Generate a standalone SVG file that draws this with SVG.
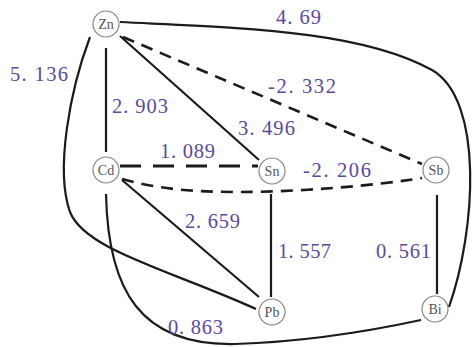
<svg xmlns="http://www.w3.org/2000/svg" width="473" height="347" viewBox="0 0 473 347">
<style>
.e{fill:none;stroke:#1c1a1a;stroke-width:2.2;stroke-linecap:butt}
.d1{stroke-dasharray:21 12;stroke-width:3}
.d2{stroke-dasharray:12 8;stroke-width:2.6}
.n circle{fill:#fff;stroke:#8c8484;stroke-width:1.2}
.n text{font-family:"Liberation Serif",serif;font-size:14px;fill:#555;text-anchor:middle}
.l{font-family:"Liberation Serif",serif;font-size:20.5px;fill:#5a4a9c}
</style>
<rect width="473" height="347" fill="#fff"/>
<g id="connectors">
<path class="e" d="M106,48 L106,152"/>
<path class="e" d="M120,36 L259,160"/>
<path class="e d2" d="M123,37 L422,164"/>
<path class="e" d="M120,22 C240,28 360,30 432,70 C484,100 476,230 449,307"/>
<path class="e" d="M90,37 C70,90 55,170 70,212 C85,250 170,270 256,309"/>
<path class="e d1" d="M120,166 L258,166"/>
<path class="e d2" d="M122,179 C160,190 200,192 240,192 C300,192 380,185 422,178"/>
<path class="e" d="M122,180 L259,297"/>
<path class="e" d="M106,194 C108,290 140,346 235,344 C300,342 370,331 421,320"/>
<path class="e" d="M271,194 L271,297"/>
<path class="e" d="M437,195 L437,294"/>
</g>
<g id="Zn" class="n"><circle cx="106" cy="24" r="13"/><text x="106" y="29">Zn</text></g>
<g id="Cd" class="n"><circle cx="106" cy="170" r="13"/><text x="106" y="175">Cd</text></g>
<g id="Sn" class="n"><circle cx="272" cy="171" r="13"/><text x="272" y="176">Sn</text></g>
<g id="Sb" class="n"><circle cx="436" cy="170" r="13"/><text x="436" y="175">Sb</text></g>
<g id="Pb" class="n"><circle cx="272" cy="312" r="13"/><text x="272" y="317">Pb</text></g>
<g id="Bi" class="n"><circle cx="435" cy="309" r="13"/><text x="435" y="314">Bi</text></g>
<g id="labels">
<text class="l" x="276" y="24" textLength="45" lengthAdjust="spacing">4. 69</text>
<text class="l" x="10" y="81" textLength="58" lengthAdjust="spacing">5. 136</text>
<text class="l" x="112" y="113" textLength="56" lengthAdjust="spacing">2. 903</text>
<text class="l" x="268" y="93" textLength="68" lengthAdjust="spacing">-2. 332</text>
<text class="l" x="238" y="135" textLength="57" lengthAdjust="spacing">3. 496</text>
<text class="l" x="160" y="158" textLength="55" lengthAdjust="spacing">1. 089</text>
<text class="l" x="303" y="177" textLength="68" lengthAdjust="spacing">-2. 206</text>
<text class="l" x="185" y="228" textLength="55" lengthAdjust="spacing">2. 659</text>
<text class="l" x="168" y="334" textLength="55" lengthAdjust="spacing">0. 863</text>
<text class="l" x="278" y="258" textLength="53" lengthAdjust="spacing">1. 557</text>
<text class="l" x="376" y="258" textLength="55" lengthAdjust="spacing">0. 561</text>
</g>
</svg>
